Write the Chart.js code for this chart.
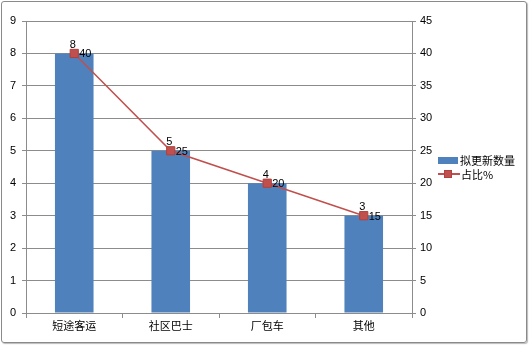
<!DOCTYPE html>
<html><head><meta charset="utf-8">
<script src="https://cdn.jsdelivr.net/npm/chart.js@4"></script>
<style>
html,body{margin:0;padding:0;background:#fff;}
#wrap{position:relative;width:530px;height:345px;}
#frame{position:absolute;left:1px;top:1px;width:524px;height:340px;border:1px solid #8a8a8a;border-radius:3px;box-shadow:1px 1px 1px #bbb;}
canvas{position:absolute;left:0;top:0;}
.lg{position:absolute;font:11px "Noto Sans CJK SC","Liberation Sans",sans-serif;color:#000;white-space:nowrap;}
</style></head>
<body>
<div id="wrap">
<div id="frame"></div>
<canvas id="c" width="530" height="345"></canvas>
<div id="legend"></div>
</div>
<script>
const categories = ["短途客运","社区巴士","厂包车","其他"];
const countValues = [8,5,4,3];
const percentValues = [40,25,20,15];
const leftTicks = [0,1,2,3,4,5,6,7,8,9];
const rightTicks = [0,5,10,15,20,25,30,35,40,45];
const seriesNames = ["拟更新数量","占比%"];

const BLUE = "#4F81BD", RED = "#C0504D", GRID = "#8c8c8c";
const numFont = {family:"'Liberation Sans', Arial, sans-serif", size:11};
const cjkFont = {family:"'Noto Sans CJK SC', sans-serif", size:11};

const labelPlugin = {
  id:"labels",
  afterDatasetsDraw(chart){
    const ctx = chart.ctx;
    ctx.save();
    ctx.fillStyle = "#000";
    ctx.font = "11px 'Liberation Sans', Arial, sans-serif";
    const m0 = chart.getDatasetMeta(0);
    m0.data.forEach((el,i)=>{
      ctx.textAlign="center"; ctx.textBaseline="bottom";
      ctx.fillText(String(countValues[i]), el.x-1.5, el.y-3);
    });
    const m1 = chart.getDatasetMeta(1);
    m1.data.forEach((el,i)=>{
      ctx.textAlign="left"; ctx.textBaseline="middle";
      ctx.fillText(String(percentValues[i]), el.x+5, el.y+1);
    });
    ctx.restore();
  }
};

new Chart(document.getElementById("c"), {
  data:{
    labels:categories,
    datasets:[
      {type:"line", label:seriesNames[1], data:percentValues, yAxisID:"y1",
       borderColor:RED, borderWidth:1.5, backgroundColor:RED,
       pointStyle:"rect", pointRadius:5.8, pointBorderColor:"#b0413e", pointBorderWidth:1,
       tension:0, order:0},
      {type:"bar", label:seriesNames[0], data:countValues, yAxisID:"y",
       backgroundColor:BLUE, borderWidth:0,
       categoryPercentage:1, barPercentage:0.4, order:1}
    ]
  },
  options:{
    responsive:false, animation:false,
    layout:{padding:{left:0,right:0,top:21,bottom:0}},
    plugins:{legend:{display:false}, tooltip:{enabled:false}},
    scales:{
      x:{
        offset:true,
        grid:{display:true, drawOnChartArea:false, drawTicks:true, tickLength:5, color:GRID, offset:true},
        border:{display:true, color:GRID},
        ticks:{font:cjkFont, color:"#000", padding:1},
        afterFit(s){ s.height = 32; }
      },
      y:{
        position:"left", min:0, max:9,
        afterBuildTicks(s){ s.ticks = leftTicks.map(v=>({value:v})); },
        grid:{color:GRID, tickLength:4, drawTicks:true},
        border:{display:true, color:GRID},
        ticks:{font:numFont, color:"#000", padding:6},
        afterFit(s){ s.width = 26; }
      },
      y1:{
        position:"right", min:0, max:45,
        afterBuildTicks(s){ s.ticks = rightTicks.map(v=>({value:v})); },
        grid:{drawOnChartArea:false, color:GRID, tickLength:4, drawTicks:true},
        border:{display:true, color:GRID},
        ticks:{font:numFont, color:"#000", padding:4},
        afterFit(s){ s.width = 118; }
      }
    }
  },
  plugins:[labelPlugin]
});

// legend
const lg = document.getElementById("legend");
lg.innerHTML =
  '<div style="position:absolute;left:438px;top:157px;width:20px;height:7px;background:'+BLUE+'"></div>'+
  '<div class="lg" style="left:460px;top:152px;">'+seriesNames[0]+'</div>'+
  '<div style="position:absolute;left:438px;top:173px;width:22px;height:2px;background:'+RED+'"></div>'+
  '<div style="position:absolute;left:444px;top:170px;width:8px;height:8px;background:'+RED+';box-sizing:border-box;border:1px solid #b0413e"></div>'+
  '<div class="lg" style="left:461px;top:166px;">'+seriesNames[1]+'</div>';
</script>
</body></html>
